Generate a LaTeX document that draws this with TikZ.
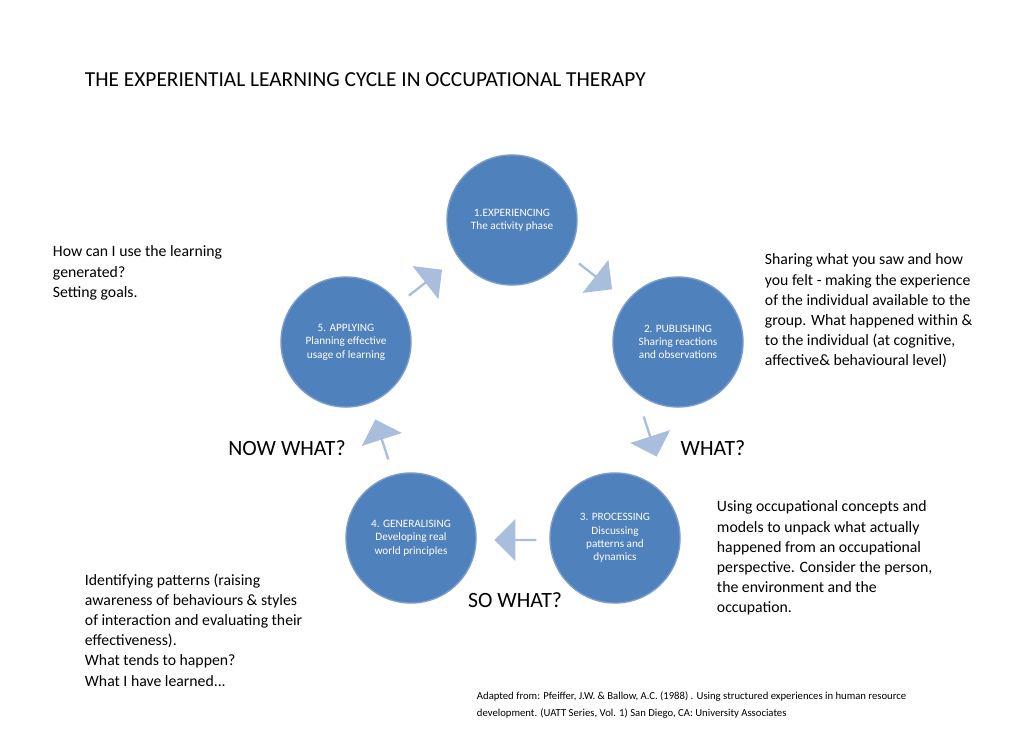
\documentclass[tikz,border=0pt]{standalone}
\usepackage{fontspec}
\setmainfont{Carlito}
\usetikzlibrary{shapes.arrows}
\definecolor{cfill}{HTML}{4F81BD}
\definecolor{cedge}{HTML}{7A9CCB}
\definecolor{afill}{HTML}{A9BEDD}
\begin{document}
\begin{tikzpicture}[x=0.025cm,y=-0.025cm,
  phase/.style={circle,fill=cfill,draw=cedge,line width=1pt,minimum size=3.25cm,text=white,align=center,font=\fontsize{8}{9.5}\selectfont},
  blk/.style={single arrow,fill=afill,draw=none,minimum height=1.05cm,minimum width=1.05cm,single arrow head extend=0.12cm,inner sep=0pt},
  txt/.style={anchor=north west,align=left,font=\fontsize{11.2}{14.3}\selectfont},
  big/.style={font=\fontsize{15.5}{18}\selectfont}]
\useasboundingbox (0,0) rectangle (1010,741);
\fill[white] (0,0) rectangle (1010,741);
\node[anchor=west,font=\fontsize{15.2}{18}\selectfont] (title) at (80,80) {THE EXPERIENTIAL LEARNING CYCLE IN OCCUPATIONAL THERAPY};
\node[phase] (c1) at (512,220) {1.EXPERIENCING\\The activity phase};
\node[phase] (c2) at (678,342) {2. PUBLISHING\\Sharing reactions\\and observations};
\node[phase] (c3) at (615,538) {3. PROCESSING\\Discussing\\patterns and\\dynamics};
\node[phase] (c4) at (411,538) {4. GENERALISING\\Developing real\\world principles};
\node[phase] (c5) at (346,342) {5. APPLYING\\Planning effective\\usage of learning};
\node[blk,rotate=-38] (a12) at (595,276) {};
\node[blk,rotate=-72] (a23) at (650,436) {};
\node[blk,rotate=180] (a34) at (516,540) {};
\node[blk,rotate=108] (a45) at (382,440) {};
\node[blk,rotate=38] (a51) at (425,283) {};
\node[big] (w1) at (287,448) {NOW WHAT?};
\node[big] (w2) at (713,448) {WHAT?};
\node[big] (w3) at (515,600) {SO WHAT?};
\node[txt] (t1) at (48,241) {How can I use the learning\\generated?\\Setting goals.};
\node[txt] (t2) at (760,249) {Sharing what you saw and how\\you felt - making the experience\\of the individual available to the\\group. What happened within \&\\to the individual (at cognitive,\\affective\& behavioural level)};
\node[txt] (t3) at (712,496) {Using occupational concepts and\\models to unpack what actually\\happened from an occupational\\perspective. Consider the person,\\the environment and the\\occupation.};
\node[txt] (t4) at (80,569) {Identifying patterns (raising\\awareness of behaviours \& styles\\of interaction and evaluating their\\effectiveness).\\What tends to happen?\\What I have learned...};
\node[anchor=north west,align=left,font=\fontsize{7.6}{12}\selectfont] (cite) at (472,687) {Adapted from: Pfeiffer, J.W. \& Ballow, A.C. (1988) . Using structured experiences in human resource\\development. (UATT Series, Vol. 1) San Diego, CA: University Associates};
\end{tikzpicture}
\end{document}
